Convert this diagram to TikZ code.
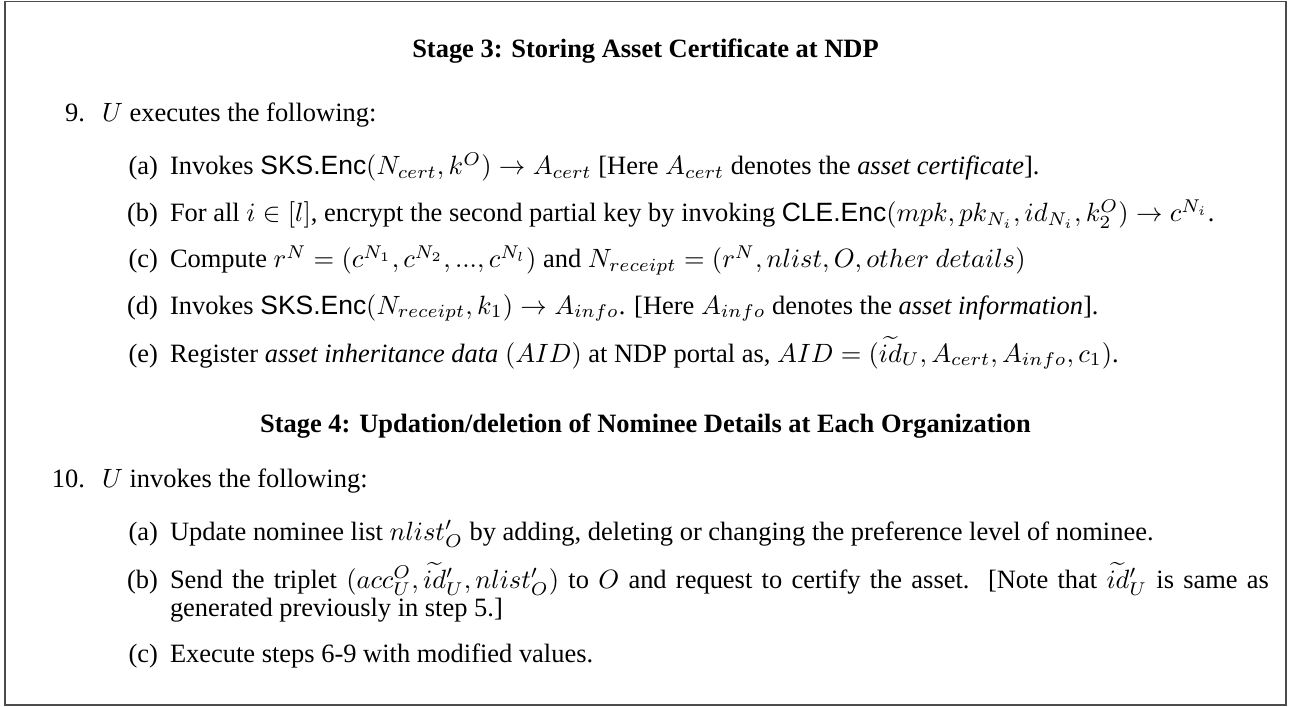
\documentclass[tikz,border=0pt]{standalone}
\usepackage[no-math]{fontspec}
\setmainfont{Liberation Serif}
\newfontfamily\hvfont{Liberation Sans}
\newlength\ux
\setlength\ux{0.378pt}
\newcommand{\algname}[1]{{\hvfont #1}}
\tikzset{
  txt/.style={anchor=base west, inner sep=0pt, outer sep=0pt, font=\fontsize{10}{12}\selectfont},
  lbl/.style={anchor=base east, inner sep=0pt, outer sep=0pt, font=\fontsize{10}{12}\selectfont},
  head/.style={anchor=base, inner sep=0pt, outer sep=0pt, font=\fontsize{10}{12}\selectfont\bfseries},
  frame/.style={draw=black!70, line width=0.7pt}
}
\begin{document}
\begin{tikzpicture}[x=1\ux, y=-1\ux]
\useasboundingbox (0,0) rectangle (1291,707);
\draw[frame] (5,1.5) rectangle (1286,705);

% Stage 3
\node[head] (h3) at (645.5,58) {Stage 3: Storing Asset Certificate at NDP};

\node[lbl] (n9) at (85,122) {9.};
\node[txt] (t9) at (102,122) {$U$ executes the following:};

\node[lbl] (l9a) at (158,175) {(a)};
\node[txt] (t9a) at (170,175) {Invokes \algname{SKS.Enc}$(N_{cert},k^O)\rightarrow A_{cert}$ [Here $A_{cert}$ denotes the \emph{asset certificate}].};
\node[lbl] (l9b) at (158,222) {(b)};
\node[txt] (t9b) at (170,222) {For all $i\in[l]$, encrypt the second partial key by invoking \algname{CLE.Enc}$(mpk,pk_{N_i},id_{N_i},k_2^O)\rightarrow c^{N_i}$.};
\node[lbl] (l9c) at (158,268) {(c)};
\node[txt] (t9c) at (170,268) {Compute $r^N=(c^{N_1},c^{N_2},...,c^{N_l})$ and $N_{receipt}=(r^N,nlist,O,other\ details)$};
\node[lbl] (l9d) at (158,314) {(d)};
\node[txt] (t9d) at (170,314) {Invokes \algname{SKS.Enc}$(N_{receipt},k_1)\rightarrow A_{info}$. [Here $A_{info}$ denotes the \emph{asset information}].};
\node[lbl] (l9e) at (158,362) {(e)};
\node[txt] (t9e) at (170,362) {Register \emph{asset inheritance data} $(AID)$ at NDP portal as, $AID=(\widetilde{id}_U,A_{cert},A_{info},c_1)$.};

% Stage 4
\node[head] (h4) at (645.5,432) {Stage 4: Updation/deletion of Nominee Details at Each Organization};

\node[lbl] (n10) at (85,487) {10.};
\node[txt] (t10) at (102,487) {$U$ invokes the following:};

\node[lbl] (l10a) at (158,540) {(a)};
\node[txt] (t10a) at (170,540) {Update nominee list $nlist'_O$ by adding, deleting or changing the preference level of nominee.};
\node[lbl] (l10b) at (158,588) {(b)};
\node[txt] (t10b) at (170,588) {\makebox[1099\ux][s]{Send the triplet $(acc_U^O,\widetilde{id}{}'_U,nlist'_O)$ to $O$ and request to certify the asset.\ \ [Note that $\widetilde{id}{}'_U$ is same as}};
\node[txt] (t10b2) at (170,616) {generated previously in step 5.]};
\node[lbl] (l10c) at (158,662) {(c)};
\node[txt] (t10c) at (170,662) {Execute steps 6-9 with modified values.};
\end{tikzpicture}
\end{document}
